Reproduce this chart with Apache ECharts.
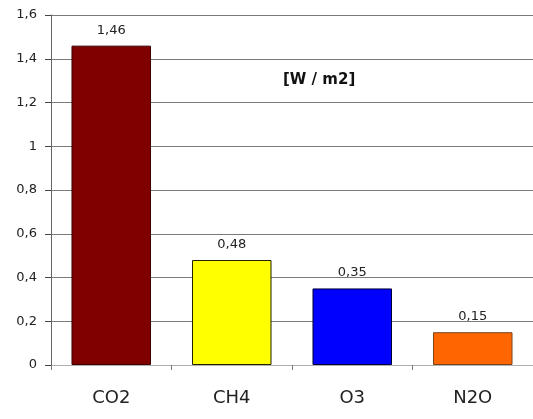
<!DOCTYPE html>
<html>
<head>
<meta charset="utf-8">
<script src="https://cdn.jsdelivr.net/npm/echarts@6/dist/echarts.min.js"></script>
<style>html,body{margin:0;padding:0;background:#fff}#c{width:533px;height:419px}</style>
</head>
<body>
<div id="c"></div>
<script>
var categories = ['CO2', 'CH4', 'O3', 'N2O'];
var values = [1.46, 0.48, 0.35, 0.15];
var barColors = ['#800000', '#FFFF00', '#0000FF', '#FF6600'];
var barBorders = ['#3a0000', '#222200', '#000033', '#7a4420'];
var yTicks = [0, 0.2, 0.4, 0.6, 0.8, 1, 1.2, 1.4, 1.6];
var unitLabel = '[W / m2]';

var chart = echarts.init(document.getElementById('c'), null, {renderer: 'canvas'});
var FONT = 'DejaVu Sans';
chart.setOption({
  animation: false,
  backgroundColor: '#fff',
  grid: {left: 51, top: 15, width: 484, height: 350, containLabel: false},
  xAxis: {
    type: 'category',
    data: categories,
    axisLine: {show: true, lineStyle: {color: '#b0b0b0', width: 1}},
    axisTick: {show: true, length: 5, lineStyle: {color: '#777'}},
    axisLabel: {color: '#222', fontFamily: FONT, fontSize: 18, margin: 24},
    splitLine: {show: false}
  },
  yAxis: {
    type: 'value',
    min: yTicks[0],
    max: yTicks[yTicks.length - 1],
    interval: 0.2,
    axisLine: {show: true, lineStyle: {color: '#666', width: 1}},
    axisTick: {show: true, length: 6, lineStyle: {color: '#444'}},
    axisLabel: {
      color: '#222', fontFamily: FONT, fontSize: 13, margin: 14,
      formatter: function (v) { return String(Math.round(v * 10) / 10).replace('.', ','); }
    },
    splitLine: {show: true, lineStyle: {color: '#7a7a7a', width: 1}}
  },
  graphic: [{
    type: 'text',
    left: 283,
    top: 73,
    style: {text: unitLabel, font: 'bold 15px "DejaVu Sans"', fill: '#111'}
  }],
  series: [{
    type: 'bar',
    barWidth: '66%',
    data: values.map(function (v, i) {
      return {value: v, itemStyle: {color: barColors[i], borderColor: barBorders[i], borderWidth: 1}};
    }),
    label: {
      show: true,
      position: 'top',
      distance: 9,
      color: '#222',
      fontFamily: FONT,
      fontSize: 13,
      formatter: function (p) { return p.value.toFixed(2).replace('.', ','); }
    }
  }]
});
</script>
</body>
</html>
